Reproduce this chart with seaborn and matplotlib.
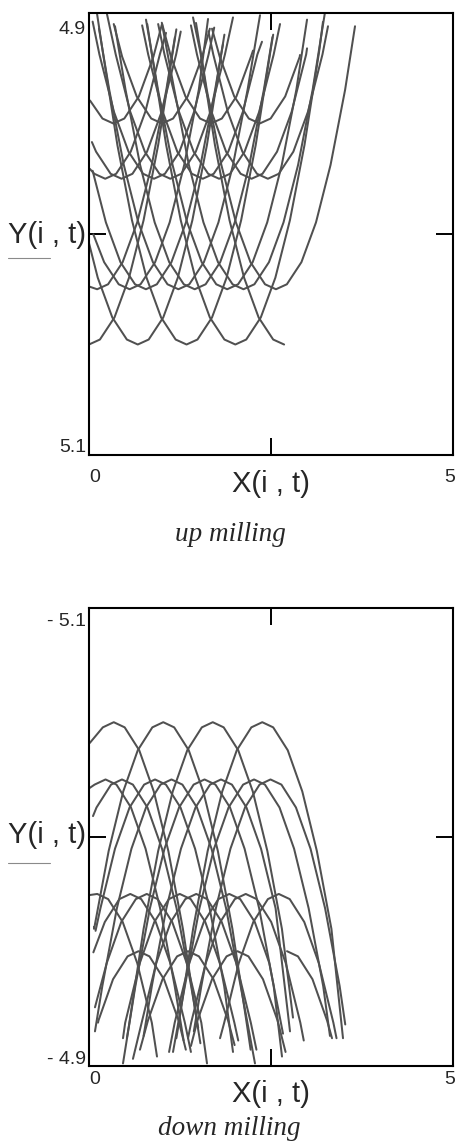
import matplotlib
matplotlib.use("Agg")
import matplotlib.pyplot as plt
from matplotlib.lines import Line2D
import pandas as pd
import seaborn as sns

# Shape of one cutting-edge pass near its deepest point:
# horizontal offset from the vertex and the rise away from it.
arc_dx = [0.15, 0.35, 0.55, 0.75, 0.95, 1.15]
arc_dy = [0.00225, 0.01225, 0.03025, 0.05625, 0.09025, 0.13225]

# Up milling: vertex of every tooth pass and the two ends of its trace
up_vx = [0.000, 0.112, 0.223, 0.335, 0.447, 0.558, 0.670, 0.782, 0.893, 1.005,
         1.117, 1.228, 1.340, 1.452, 1.563, 1.675, 1.787, 1.898, 2.010, 2.122,
         2.233, 2.345, 2.457, 2.568, 2.680]
up_vy = [5.05, 5.025, 4.975, 4.95, 4.975, 5.025, 5.05, 5.025, 4.975, 4.95,
         4.975, 5.025, 5.05, 5.025, 4.975, 4.95, 4.975, 5.025, 5.05, 5.025,
         4.975, 4.95, 4.975, 5.025, 5.05]
up_lx = [0.000, 0.005, 0.010, 0.014, 0.040, 0.060, -0.100, 0.050, 0.050, 0.340,
         0.247, 0.137, 0.109, 0.357, 0.730, 1.000, 0.950, 0.783, 0.800, 1.003,
         1.400, 1.690, 1.640, 1.470, 1.429]
up_ly = [5.05, 5.0238, 4.9705, 4.9396, 4.9584, 5.0002, 5.0, 4.9714, 4.9039, 4.905,
         4.9005, 4.907, 4.9, 4.906, 4.9056, 4.9044, 4.905, 4.903, 4.905, 4.905,
         4.9056, 4.9071, 4.9083, 4.9045, 4.902]
up_rx = [1.200, 1.180, 1.058, 1.000, 1.260, 1.635, 1.860, 1.840, 1.720, 1.660,
         1.978, 2.349, 2.530, 2.520, 2.376, 2.253, 2.624, 2.995, 3.214, 3.240,
         2.995, 2.898, 3.283, 3.654, 2.680]
up_ry = [4.9074, 4.911, 4.909, 4.9053, 4.9084, 4.9027, 4.9098, 4.9142, 4.9066, 4.9071,
         4.902, 4.901, 4.9098, 4.9109, 4.913, 4.917, 4.905, 4.903, 4.904, 4.9,
         4.916, 4.919, 4.906, 4.906, 5.05]

# Down milling
dn_vx = [0.113, 0.227, 0.340, 0.453, 0.567, 0.680, 0.793, 0.907, 1.020, 1.133,
         1.247, 1.360, 1.473, 1.587, 1.700, 1.813, 1.927, 2.040, 2.153, 2.267,
         2.380, 2.493, 2.607, 2.720]
dn_vy = [-4.975, -5.025, -5.05, -5.025, -4.975, -4.95, -4.975, -5.025, -5.05, -5.025,
         -4.975, -4.95, -4.975, -5.025, -5.05, -5.025, -4.975, -4.95, -4.975, -5.025,
         -5.05, -5.025, -4.975, -4.95]
dn_lx = [0.005, 0.010, 0.010, 0.055, 0.060, 0.124, 0.082, 0.090, 0.070, 0.082,
         0.467, 0.700, 0.604, 0.467, 0.520, 0.750, 1.100, 1.400, 1.360, 1.154,
         1.200, 1.440, 1.800, 2.720]
dn_ly = [-4.9745, -5.0213, -5.0409, -5.009, -4.9495, -4.9188, -4.9255, -4.9589, -4.9606, -4.915,
         -4.912, -4.907, -4.903, -4.901, -4.912, -4.913, -4.906, -4.9086, -4.912, -4.906,
         -4.912, -4.915, -4.912, -4.95]
dn_rx = [0.934, 1.300, 1.530, 1.500, 1.400, 1.330, 1.621, 1.978, 2.220, 2.280,
         2.050, 2.000, 2.300, 2.651, 2.802, 2.761, 2.665, 2.700, 2.950, 3.310,
         3.489, 3.520, 3.400, 3.338]
dn_ry = [-4.904, -4.911, -4.9098, -4.9165, -4.906, -4.907, -4.901, -4.906, -4.907, -4.901,
         -4.911, -4.909, -4.907, -4.904, -4.921, -4.915, -4.914, -4.906, -4.911, -4.913,
         -4.912, -4.918, -4.912, -4.912]

W, H = 455, 1142
LINE = "#505050"


def arcs_frame(vx, vy, lx, ly, rx, ry, up):
    rows = []
    s = -1.0 if up else 1.0
    for k in range(len(vx)):
        pts = [(lx[k], ly[k])]
        for dx, dy in zip(arc_dx[::-1], arc_dy[::-1]):
            if vx[k] - dx > lx[k]:
                pts.append((vx[k] - dx, vy[k] + s * dy))
        pts.append((vx[k], vy[k]))
        for dx, dy in zip(arc_dx, arc_dy):
            if vx[k] + dx < rx[k]:
                pts.append((vx[k] + dx, vy[k] + s * dy))
        pts.append((rx[k], ry[k]))
        for i, (x, y) in enumerate(pts):
            rows.append({"pass": k, "step": i, "X": x, "Y": y})
    return pd.DataFrame(rows)


sns.set_style("white")
plt.rcParams["font.family"] = ["Liberation Sans", "DejaVu Sans"]

fig = plt.figure(figsize=(W / 100, H / 100), dpi=100)


def fx(px):
    return px / W


def fy(py):
    return 1 - py / H


def panel(top, bottom, df, ylim, mid_y):
    ax = fig.add_axes([fx(89), fy(bottom), fx(453) - fx(89), fy(top) - fy(bottom)])
    sns.lineplot(data=df, x="X", y="Y", units="pass", estimator=None, sort=False,
                 color=LINE, linewidth=1.45, ax=ax, legend=False)
    ax.set_xlim(0, 5)
    ax.set_ylim(*ylim)
    ax.set_xticks([2.5])
    ax.set_yticks([mid_y])
    ax.tick_params(direction="in", length=12.5, width=1.4, color="black",
                   top=True, right=True, bottom=True, left=True,
                   labelbottom=False, labelleft=False)
    for sp in ax.spines.values():
        sp.set_color("black")
        sp.set_linewidth(1.5)
        sp.set_visible(True)
    ax.set_xlabel("")
    ax.set_ylabel("")
    return ax


up_df = arcs_frame(up_vx, up_vy, up_lx, up_ly, up_rx, up_ry, True)
dn_df = arcs_frame(dn_vx, dn_vy, dn_lx, dn_ly, dn_rx, dn_ry, False)

panel(13, 455, up_df, (5.1, 4.9), 5.0)
panel(607.7, 1065.7, dn_df, (-4.9, -5.1), -5.0)

tick_fs = 14
lab_fs = 21
cap_fs = 19.5
serif = ["Liberation Serif", "DejaVu Serif"]


def t(x, y, s, **kw):
    fig.text(fx(x), fy(y), s, **kw)


# upper panel texts
t(86, 29, "4.9", ha="right", va="center", fontsize=tick_fs)
t(86, 448, "5.1", ha="right", va="center", fontsize=tick_fs)
t(89, 478, "0", ha="left", va="center", fontsize=tick_fs)
t(455, 478, "5", ha="right", va="center", fontsize=tick_fs)
t(271, 484, "X(i , t)", ha="center", va="center", fontsize=lab_fs)
t(86, 235, "Y(i , t)", ha="right", va="center", fontsize=lab_fs)
fig.add_artist(Line2D([fx(8), fx(50)], [fy(258), fy(258)], color="#8a8a8a",
                      lw=0.8, transform=fig.transFigure))
t(230, 535, "up milling", ha="center", va="center", fontsize=cap_fs,
  family=serif, style="italic")

# lower panel texts
t(86, 622, "- 5.1", ha="right", va="center", fontsize=tick_fs)
t(86, 1059, "- 4.9", ha="right", va="center", fontsize=tick_fs)
t(89, 1080, "0", ha="left", va="center", fontsize=tick_fs)
t(455, 1080, "5", ha="right", va="center", fontsize=tick_fs)
t(271, 1094, "X(i , t)", ha="center", va="center", fontsize=lab_fs)
t(86, 835, "Y(i , t)", ha="right", va="center", fontsize=lab_fs)
fig.add_artist(Line2D([fx(8), fx(50)], [fy(863), fy(863)], color="#8a8a8a",
                      lw=0.8, transform=fig.transFigure))
t(229, 1135, "down milling", ha="center", va="baseline", fontsize=cap_fs,
  family=serif, style="italic")

fig.savefig("out.png", dpi=100)
